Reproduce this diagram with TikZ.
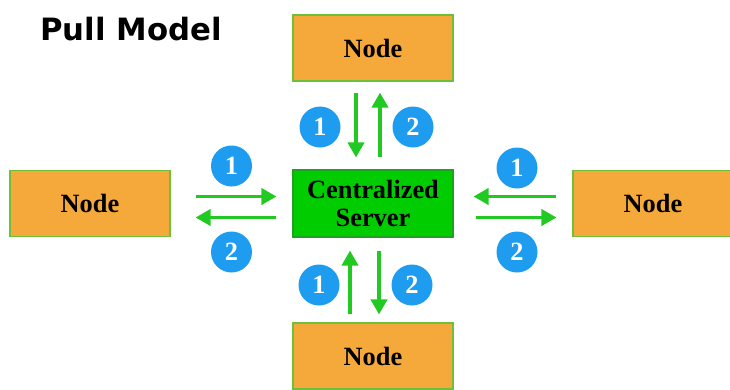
\documentclass[tikz,border=0pt]{standalone}
\usepackage{fontspec}
\setmainfont{Liberation Serif}
\newfontfamily\titlefont{DejaVu Sans}
\usepackage{xcolor}
\usetikzlibrary{arrows.meta,positioning,calc}

\definecolor{nodeorange}{HTML}{F6A93B}
\definecolor{nodeedge}{HTML}{6CC03A}
\definecolor{srvgreen}{HTML}{00CC00}
\definecolor{srvedge}{HTML}{1FA21F}
\definecolor{flowgreen}{HTML}{22C922}
\definecolor{stepblue}{HTML}{1E9CF0}

\begin{document}
\begin{tikzpicture}[font=\fontsize{15}{16}\selectfont\bfseries,
  peer/.style={draw=nodeedge,line width=0.6pt,fill=nodeorange,minimum width=3.2cm,minimum height=1.32cm},
  hub/.style={draw=srvedge,line width=0.6pt,fill=srvgreen,minimum width=3.2cm,minimum height=1.34cm,align=center,inner sep=1pt},
  flow/.style={draw=flowgreen,line width=2.1pt,-{Triangle[length=0.3cm,width=0.32cm]}},
  badge/.style={circle,fill=stepblue,text=white,minimum size=0.82cm,inner sep=0pt}]
\useasboundingbox (0,0) rectangle (14.6,7.78);
% title
\node[font=\titlefont\fontsize{17.5}{20}\selectfont\bfseries] (title) at (2.62,7.2) {Pull Model};
% server and the four nodes
\node[hub] (srv) at (7.46,3.71) {Centralized\\Server};
\node[peer] (ntop) at (7.46,6.82) {Node};
\node[peer] (nleft) at (1.8,3.71) {Node};
\node[peer] (nright) at (13.06,3.71) {Node};
\node[peer] (nbot) at (7.46,0.66) {Node};
% top pair
\draw[flow,shorten <=0.22cm,shorten >=0.24cm] ([xshift=-0.34cm]ntop.south) -- ([xshift=-0.34cm]srv.north);
\draw[flow,shorten <=0.24cm,shorten >=0.22cm] ([xshift=0.14cm]srv.north) -- ([xshift=0.14cm]ntop.south);
\node[badge] (t1) at (6.4,5.24) {1};
\node[badge] (t2) at (8.26,5.24) {2};
% left pair
\draw[flow,shorten <=0.5cm,shorten >=0.32cm] ([yshift=0.14cm]nleft.east) -- ([yshift=0.14cm]srv.west);
\draw[flow,shorten <=0.32cm,shorten >=0.5cm] ([yshift=-0.28cm]srv.west) -- ([yshift=-0.28cm]nleft.east);
\node[badge] (l1) at (4.63,4.46) {1};
\node[badge] (l2) at (4.63,2.74) {2};
% right pair
\draw[flow,shorten <=0.32cm,shorten >=0.4cm] ([yshift=0.14cm]nright.west) -- ([yshift=0.14cm]srv.east);
\draw[flow,shorten <=0.44cm,shorten >=0.32cm] ([yshift=-0.28cm]srv.east) -- ([yshift=-0.28cm]nright.west);
\node[badge] (r1) at (10.34,4.42) {1};
\node[badge] (r2) at (10.34,2.74) {2};
% bottom pair
\draw[flow,shorten <=0.16cm,shorten >=0.26cm] ([xshift=-0.46cm]nbot.north) -- ([xshift=-0.46cm]srv.south);
\draw[flow,shorten <=0.26cm,shorten >=0.16cm] ([xshift=0.12cm]srv.south) -- ([xshift=0.12cm]nbot.north);
\node[badge] (b1) at (6.38,2.08) {1};
\node[badge] (b2) at (8.24,2.08) {2};
\end{tikzpicture}
\end{document}
